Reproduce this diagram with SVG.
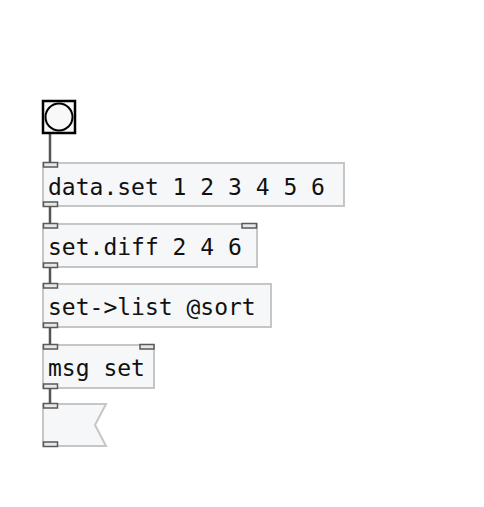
<svg xmlns="http://www.w3.org/2000/svg" width="484" height="507" viewBox="0 0 484 507">
<style>
.box{fill:#f6f7f9;stroke:#c6c6c6;stroke-width:2}
.io{fill:#e8e8e8;stroke:#5a5a5a;stroke-width:1.5}
.t{font-family:"DejaVu Sans Mono",monospace;font-size:23px;fill:#111}
.c{stroke:#555;stroke-width:2.5;fill:none}
</style>
<rect width="484" height="507" fill="#ffffff"/>
<g id="connectors">
<line class="c" x1="50" y1="133" x2="50" y2="163"/>
<line class="c" x1="50" y1="206" x2="50" y2="224"/>
<line class="c" x1="50" y1="267" x2="50" y2="284"/>
<line class="c" x1="50" y1="327" x2="50" y2="345"/>
<line class="c" x1="50" y1="388" x2="50" y2="404"/>
</g>
<g id="bang">
<rect x="43" y="101" width="32" height="32" fill="#f8f8f8" stroke="#000" stroke-width="2.5"/>
<circle cx="59" cy="117" r="13.5" fill="#f8f8f8" stroke="#000" stroke-width="2"/>
</g>
<g id="data_set">
<rect class="box" x="43" y="163" width="301" height="43"/>
<rect class="io" x="43.5" y="162.5" width="14" height="4.5"/>
<rect class="io" x="43.5" y="202" width="14" height="4.5"/>
<text class="t" x="48" y="194.5">data.set 1 2 3 4 5 6</text>
</g>
<g id="set_diff">
<rect class="box" x="43" y="224" width="214" height="43"/>
<rect class="io" x="43.5" y="223.5" width="14" height="4.5"/>
<rect class="io" x="242" y="223.5" width="14.5" height="4.5"/>
<rect class="io" x="43.5" y="263" width="14" height="4.5"/>
<text class="t" x="48" y="254.5">set.diff 2 4 6</text>
</g>
<g id="set_list">
<rect class="box" x="43" y="284" width="228" height="43"/>
<rect class="io" x="43.5" y="283.5" width="14" height="4.5"/>
<rect class="io" x="43.5" y="323" width="14" height="4.5"/>
<text class="t" x="48" y="314.5">set-&gt;list @sort</text>
</g>
<g id="msg_set">
<rect class="box" x="43" y="345" width="111" height="43"/>
<rect class="io" x="43.5" y="344.5" width="14" height="4.5"/>
<rect class="io" x="140" y="344.5" width="14" height="4.5"/>
<rect class="io" x="43.5" y="384" width="14" height="4.5"/>
<text class="t" x="48" y="375.5">msg set</text>
</g>
<g id="message">
<path class="box" d="M43 404 H106 L95 425 L106 446 H43 Z"/>
<rect class="io" x="43.5" y="403.5" width="14" height="4.5"/>
<rect class="io" x="43.5" y="442" width="14" height="4.5"/>
</g>
</svg>
